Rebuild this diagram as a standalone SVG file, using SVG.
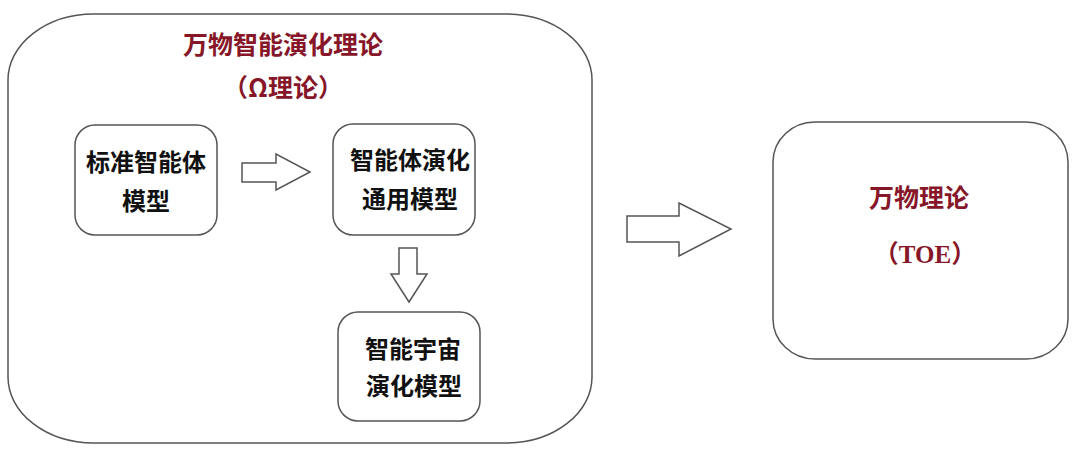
<svg xmlns="http://www.w3.org/2000/svg" width="1080" height="459" viewBox="0 0 1080 459">
<style>
.box{fill:#fff;stroke:#555;stroke-width:1.5}
.arr{fill:#fff;stroke:#555;stroke-width:1.5;stroke-linejoin:miter}
.t{font-family:"Noto Sans CJK SC","Noto Sans",sans-serif;font-weight:bold;font-size:24px;fill:#111;text-anchor:middle}
.r{font-family:"Noto Sans CJK SC","Noto Sans",sans-serif;font-weight:bold;font-size:25px;fill:#861628;text-anchor:middle}
.toe{font-family:"Liberation Serif","Noto Sans CJK SC",serif}
</style>
<rect width="1080" height="459" fill="#fff"/>
<g id="omega">
<rect class="box" x="8" y="14" width="584" height="429" rx="86" ry="66"/>
<text class="r" x="283" y="54">万物智能演化理论</text>
<text class="r" x="283" y="97">（Ω理论）</text>
</g>
<g id="n1">
<rect class="box" x="75" y="125" width="142" height="110" rx="20" ry="20"/>
<text class="t" x="146" y="171">标准智能体</text>
<text class="t" x="146" y="210">模型</text>
</g>
<g id="n2">
<rect class="box" x="333" y="124" width="142" height="111" rx="20" ry="20"/>
<text class="t" x="410" y="169">智能体演化</text>
<text class="t" x="410" y="208">通用模型</text>
</g>
<g id="n3">
<rect class="box" x="338" y="312" width="142" height="109" rx="20" ry="20"/>
<text class="t" x="413" y="358">智能宇宙</text>
<text class="t" x="414" y="395">演化模型</text>
</g>
<g id="toe">
<rect class="box" x="773" y="122" width="295" height="237" rx="42" ry="40"/>
<text class="r" x="919" y="207">万物理论</text>
<text class="r" x="925" y="263">（<tspan class="toe">TOE</tspan>）</text>
</g>
<g id="connectors">
<polygon class="arr" points="242,163 276,163 276,154 310,172 276,190 276,182 242,182"/>
<polygon class="arr" points="399,248 417,248 417,274 427,274 409,302 391,274 399,274"/>
<polygon class="arr" points="627,216 679,216 679,203 731,229 679,256 679,242 627,242"/>
</g>
</svg>
